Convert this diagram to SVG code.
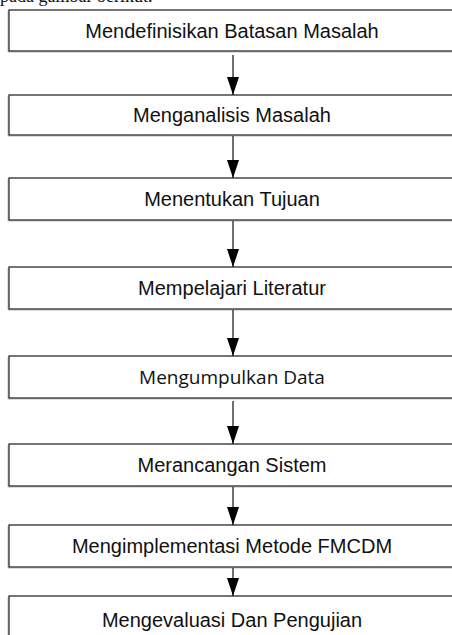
<svg xmlns="http://www.w3.org/2000/svg" width="452" height="635" viewBox="0 0 452 635">
<style>
.box{fill:#fff;stroke:#1a1a1a;stroke-width:1.2}
.sh{fill:none;stroke:#bdbdbd;stroke-width:1}
.t{font-family:"Liberation Sans",Arial,sans-serif;font-size:20px;fill:#111;text-anchor:middle}
.c{font-family:"Open Sans","Noto Sans",sans-serif;font-size:19px;fill:#111;text-anchor:middle}
.ln{stroke:#111;stroke-width:1.2;fill:none}
</style>
<defs>
<marker id="ah" viewBox="0 0 18 12" markerWidth="18" markerHeight="12" refX="18" refY="6" orient="auto" markerUnits="userSpaceOnUse">
<path d="M0,0 L18,6 L0,12 Z" fill="#000"/>
</marker>
</defs>
<rect width="452" height="635" fill="#fff"/>
<text x="0" y="1.5" font-family="Liberation Serif,'Times New Roman',serif" font-size="18" fill="#111">pada gambar berikut.</text>
<g id="n1"><path class="sh" d="M8,11 V52 H452"/><rect class="box" x="9" y="10" width="445" height="41"/><text class="t" x="232" y="37.5">Mendefinisikan Batasan Masalah</text></g>
<g id="n2"><path class="sh" d="M8,96 V136 H452"/><rect class="box" x="9" y="95" width="445" height="40"/><text class="t" x="232" y="122">Menganalisis Masalah</text></g>
<g id="n3"><path class="sh" d="M8,179 V221 H452"/><rect class="box" x="9" y="178" width="445" height="42"/><text class="t" x="232" y="206">Menentukan Tujuan</text></g>
<g id="n4"><path class="sh" d="M8,268 V310 H452"/><rect class="box" x="9" y="267" width="445" height="42"/><text class="t" x="232" y="295">Mempelajari Literatur</text></g>
<g id="n5"><path class="sh" d="M8,357 V399 H452"/><rect class="box" x="9" y="356" width="445" height="42"/><text class="c" x="232" y="384">Mengumpulkan Data</text></g>
<g id="n6"><path class="sh" d="M8,445 V487 H452"/><rect class="box" x="9" y="444" width="445" height="42"/><text class="t" x="232" y="472">Merancangan Sistem</text></g>
<g id="n7"><path class="sh" d="M8,526 V568 H452"/><rect class="box" x="9" y="525" width="445" height="42"/><text class="t" x="232" y="553">Mengimplementasi Metode FMCDM</text></g>
<g id="n8"><path class="sh" d="M8,597 V640"/><rect class="box" x="9" y="596" width="445" height="50"/><text class="t" x="232" y="627">Mengevaluasi Dan Pengujian</text></g>
<g id="connectors">
<line class="ln" x1="233" y1="55" x2="233" y2="95" marker-end="url(#ah)"/>
<line class="ln" x1="233" y1="136" x2="233" y2="178" marker-end="url(#ah)"/>
<line class="ln" x1="233" y1="221" x2="233" y2="267" marker-end="url(#ah)"/>
<line class="ln" x1="233" y1="310" x2="233" y2="356" marker-end="url(#ah)"/>
<line class="ln" x1="233" y1="401" x2="233" y2="444" marker-end="url(#ah)"/>
<line class="ln" x1="233" y1="487" x2="233" y2="525" marker-end="url(#ah)"/>
<line class="ln" x1="233" y1="568" x2="233" y2="596" marker-end="url(#ah)"/>
</g>
</svg>
